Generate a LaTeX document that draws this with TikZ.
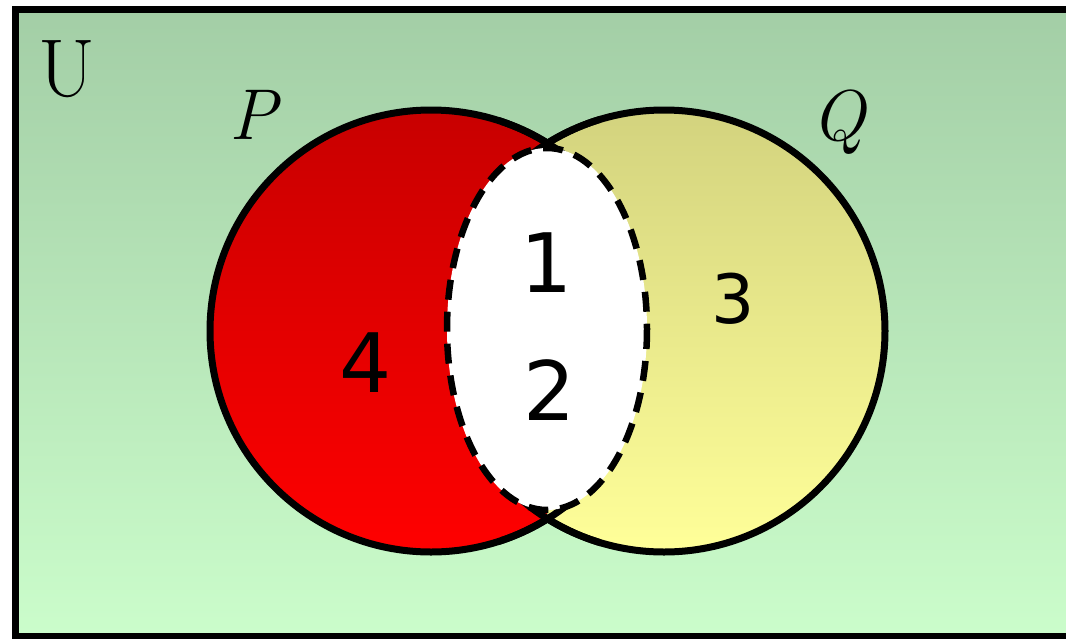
\documentclass[tikz,border=0pt]{standalone}
\usepackage{fontspec}
\newfontfamily\digitfont{DejaVu Sans}
\begin{document}
\begin{tikzpicture}[x=1pt,y=-1pt,
  outline/.style={line width=7pt,draw=black},
  dashring/.style={line width=6.5pt,draw=black,dash pattern=on 20pt off 12pt},
  letter/.style={anchor=base,inner sep=0pt,font=\fontsize{72}{72}\selectfont},
  digit/.style={anchor=base,inner sep=0pt,font=\digitfont\fontsize{82}{82}\selectfont}]
\useasboundingbox (0,0) rectangle (1066,638);
\clip (0,0) rectangle (1066,638);
% universe background
\shade[top color={rgb,255:red,163;green,206;blue,166},bottom color={rgb,255:red,203;green,253;blue,203}]
  (15,9) rectangle (1090,636);
% circle P (red)
\shade[top color={rgb,255:red,200;green,0;blue,0},bottom color={rgb,255:red,255;green,0;blue,0}]
  (431,331) circle[radius=221];
% circle Q (yellow), only right of the radical line
\begin{scope}
  \clip (547.5,0) rectangle (1066,638);
  \shade[top color={rgb,255:red,211;green,211;blue,126},bottom color={rgb,255:red,255;green,255;blue,153}]
    (664,331) circle[radius=221];
  \draw[outline] (664,331) circle[radius=221];
\end{scope}
% outline of P, outer arc only
\begin{scope}
  \clip (0,0) rectangle (547.5,638);
  \draw[outline] (431,331) circle[radius=221];
\end{scope}
% short inner arcs near the two crossings
\begin{scope}
  \clip (500,0) rectangle (600,168) (500,492) rectangle (600,638);
  \draw[outline] (431,331) circle[radius=221];
  \draw[outline] (664,331) circle[radius=221];
\end{scope}
% white ellipse
\fill[white] (547,329) ellipse[x radius=100,y radius=181];
\draw[dashring] (547,329) ellipse[x radius=100,y radius=181];
\draw[outline] (15,9) rectangle (1090,636);
% labels
\node[letter,font=\fontsize{82}{82}\selectfont] (U) at (67,96) {U};
\node[letter] (P) at (253,139) {\itshape P};
\node[letter] (Q) at (838,140) {\itshape Q};
\node[digit] (n1) at (547,292) {1};
\node[digit] (n2) at (550,420) {2};
\node[digit,font=\digitfont\fontsize{68}{68}\selectfont] (n3) at (733,323) {3};
\node[digit] (n4) at (366,392) {4};
\end{tikzpicture}
\end{document}
